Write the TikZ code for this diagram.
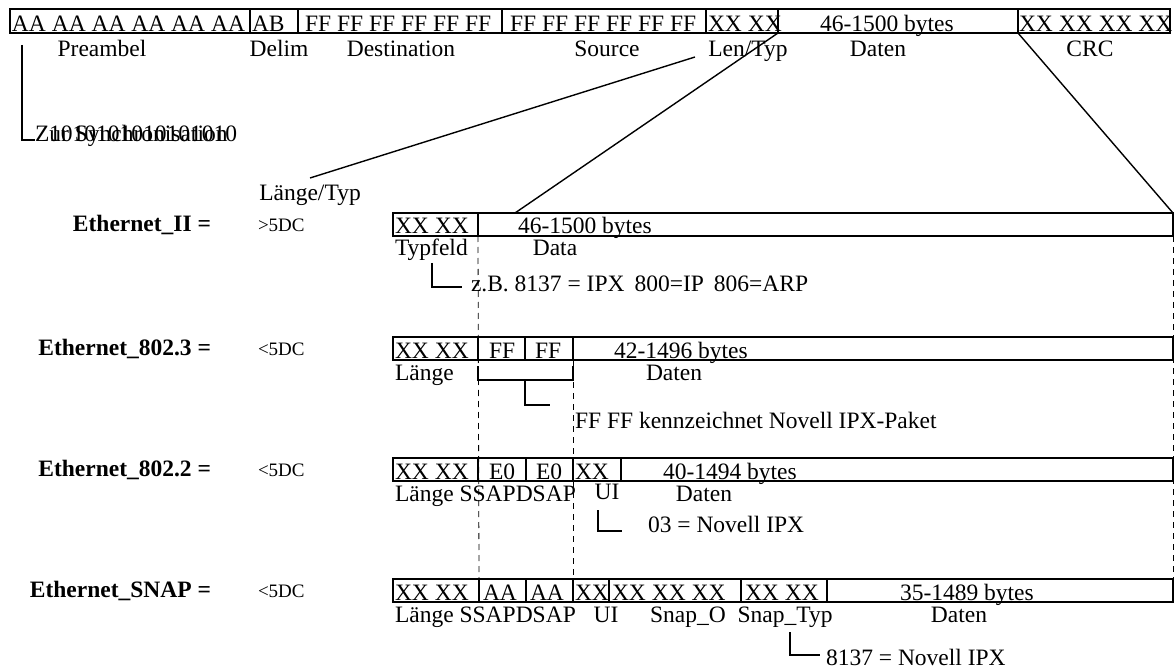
\documentclass[tikz,border=0pt]{standalone}
\usepackage{fontspec}
\setmainfont{Liberation Serif}
\begin{document}
\begin{tikzpicture}[x=1pt,y=-1pt,
  cellbox/.style={draw, line width=1.6pt, inner sep=0pt, outer sep=0pt, anchor=north west},
  txt/.style={inner sep=0pt, outer sep=0pt, font=\fontsize{23.5}{26}\selectfont},
  intxt/.style={txt, anchor=base west},
  lbl/.style={txt, anchor=base},
  lblw/.style={txt, anchor=base west},
  valtxt/.style={inner sep=0pt, outer sep=0pt, anchor=base west, font=\fontsize{19}{22}\selectfont},
  rowname/.style={txt, anchor=base east, font=\fontsize{23.5}{26}\selectfont\bfseries},
  conn/.style={line width=1.4pt},
  guide/.style={line width=0.8pt, dash pattern=on 6pt off 5pt}]
\useasboundingbox (0,0) rectangle (1176,671);
\newcommand\cellat[5]{\node[cellbox, minimum width={(#3-#2)*1pt}, minimum height={(#5-#4)*1pt}] (#1) at (#2,#4) {};}
% ---------- top frame ----------
\cellat{pre}{10}{250}{9}{33}
\cellat{delim}{250}{298}{9}{33}
\cellat{dst}{298}{502}{9}{33}
\cellat{src}{502}{706}{9}{33}
\cellat{lt}{706}{778}{9}{33}
\cellat{dat}{778}{1018}{9}{33}
\cellat{crc}{1018}{1170}{9}{33}
\node[intxt] (tpre) at (12,31.5) {AA AA AA AA AA AA};
\node[intxt] (tdelim) at (252,31.5) {AB};
\node[intxt] (tdst) at (305,31.5) {FF FF FF FF FF FF};
\node[intxt] (tsrc) at (510,31.5) {FF FF FF FF FF FF};
\node[intxt] (tlt) at (708,31.5) {XX XX};
\node[intxt] (tdat) at (820,31.5) {46-1500 bytes};
\node[intxt] (tcrc) at (1019,31.5) {XX XX XX XX};
\node[lbl] (lpre) at (102,57) {Preambel};
\node[lbl] (ldelim) at (279,57) {Delim};
\node[lbl] (ldst) at (401,57) {Destination};
\node[lbl] (lsrc) at (607,57) {Source};
\node[lbl] (llt) at (748,57) {Len/Typ};
\node[lbl] (ldat) at (878,57) {Daten};
\node[lbl] (lcrc) at (1090,57) {CRC};
% preamble note
\node[lblw] (sync) at (35,142) {Zur Synchronisation};
\node[lblw] (syncbits) at (49,142) {1010101010101010};
\coordinate (sa) at (22,45);
\coordinate (sb) at (22,140);
\draw[conn] (sa) -- (sb) -- (sync.west |- sb);
% Laenge/Typ pointer
\node[lbl] (lgtyp) at (310,201) {Länge/Typ};
\coordinate (la) at (695,57);
\coordinate (lb) at (310,178);
\draw[conn] (la) -- (lb);
% ---------- Ethernet II ----------
\node[rowname] (nII) at (211,232) {Ethernet\_II =};
\node[valtxt] (vII) at (258,232) {>5DC};
\cellat{eIIlen}{393}{478}{213}{236}
\cellat{eIIdat}{478}{1173}{213}{236}
\node[intxt] (teIIlen) at (395,234) {XX XX};
\node[intxt] (teIIdat) at (518,234) {46-1500 bytes};
\node[lblw] (lIIa) at (395,256) {Typfeld};
\node[lbl] (lIIb) at (555,256) {Data};
\node[lblw] (nIInote) at (471,291) {z.B. 8137 = IPX\hspace{10pt}800=IP\hspace{10pt}806=ARP};
\coordinate (IIa) at (432,263);
\coordinate (IIb) at (432,287);
\coordinate (IIc) at (462,287);
\draw[conn] (IIa) -- (IIb) -- (IIc);
\coordinate (zoomL) at (515,213);
\draw[conn] (lt.south east) -- (zoomL);
\draw[conn] (crc.south west) -- (eIIdat.north east);
% ---------- Ethernet 802.3 ----------
\node[rowname] (nIII) at (211,355) {Ethernet\_802.3 =};
\node[valtxt] (vIII) at (258,355) {<5DC};
\cellat{eIIIlen}{393}{478}{337}{360}
\cellat{eIIIf1}{478}{525}{337}{360}
\cellat{eIIIf2}{525}{573}{337}{360}
\cellat{eIIIdat}{573}{1173}{337}{360}
\node[intxt] (teIIIlen) at (395,358) {XX XX};
\node[intxt] (teIIIf1) at (489,358) {FF};
\node[intxt] (teIIIf2) at (535,358) {FF};
\node[intxt] (teIIIdat) at (614,358) {42-1496 bytes};
\node[lblw] (lIIIa) at (395,380) {Länge};
\node[lblw] (lIIIb) at (646,380) {Daten};
\node[lblw] (nIIInote) at (575,428) {FF FF kennzeichnet Novell IPX-Paket};
\coordinate (IIIa) at (478,366);
\coordinate (IIIb) at (478,380);
\coordinate (IIIc) at (573,380);
\coordinate (IIId) at (573,366);
\draw[conn] (IIIa) -- (IIIb) -- (IIIc) -- (IIId);
\coordinate (IIIe) at (525,380);
\coordinate (IIIf) at (525,405);
\coordinate (IIIg) at (550,405);
\draw[conn] (IIIe) -- (IIIf) -- (IIIg);
% ---------- Ethernet 802.2 ----------
\node[rowname] (nIV) at (211,476) {Ethernet\_802.2 =};
\node[valtxt] (vIV) at (258,476) {<5DC};
\cellat{eIVlen}{393}{478}{458}{481}
\cellat{eIVs}{478}{526}{458}{481}
\cellat{eIVd}{526}{573}{458}{481}
\cellat{eIVui}{573}{621}{458}{481}
\cellat{eIVdat}{621}{1173}{458}{481}
\node[intxt] (teIVlen) at (395,479) {XX XX};
\node[intxt] (teIVs) at (489,479) {E0};
\node[intxt] (teIVd) at (536,479) {E0};
\node[intxt] (teIVui) at (575,479) {XX};
\node[intxt] (teIVdat) at (663,479) {40-1494 bytes};
\node[lblw] (lIVa) at (395,501) {Länge SSAPDSAP};
\node[lbl] (lIVb) at (607,499) {UI};
\node[lbl] (lIVc) at (704,501) {Daten};
\node[lblw] (nIVnote) at (648,532) {03 = Novell IPX};
\coordinate (IVa) at (598,510);
\coordinate (IVb) at (598,531);
\coordinate (IVc) at (622,531);
\draw[conn] (IVa) -- (IVb) -- (IVc);
% ---------- Ethernet SNAP ----------
\node[rowname] (nV) at (211,597) {Ethernet\_SNAP =};
\node[valtxt] (vV) at (258,597) {<5DC};
\cellat{eVlen}{393}{479}{579}{602}
\cellat{eVs}{479}{526}{579}{602}
\cellat{eVd}{526}{573}{579}{602}
\cellat{eVui}{573}{609}{579}{602}
\cellat{eVo}{609}{741}{579}{602}
\cellat{eVt}{741}{827}{579}{602}
\cellat{eVdat}{827}{1173}{579}{602}
\node[intxt] (teVlen) at (395,600) {XX XX};
\node[intxt] (teVs) at (483,600) {AA};
\node[intxt] (teVd) at (530,600) {AA};
\node[intxt] (teVui) at (575,600) {XX};
\node[intxt] (teVo) at (612,600) {XX XX XX};
\node[intxt] (teVt) at (745,600) {XX XX};
\node[intxt] (teVdat) at (900,600) {35-1489 bytes};
\node[lblw] (lVa) at (395,622) {Länge SSAPDSAP};
\node[lbl] (lVb) at (606,622) {UI};
\node[lbl] (lVc) at (688,622) {Snap\_O};
\node[lbl] (lVd) at (785,622) {Snap\_Typ};
\node[lbl] (lVe) at (959,622) {Daten};
\node[lblw] (nVnote) at (826,665) {8137 = Novell IPX};
\coordinate (Va) at (790,632);
\coordinate (Vb) at (790,655);
\coordinate (Vc) at (820,655);
\draw[conn] (Va) -- (Vb) -- (Vc);
% ---------- dashed guides ----------
\draw[guide] (eIIlen.south east) -- (eVlen.north east);
\draw[guide] (eIIIf2.south east) -- (eVd.north east);
\draw[guide] (eIIdat.south east) -- (eVdat.north east);
\end{tikzpicture}
\end{document}
